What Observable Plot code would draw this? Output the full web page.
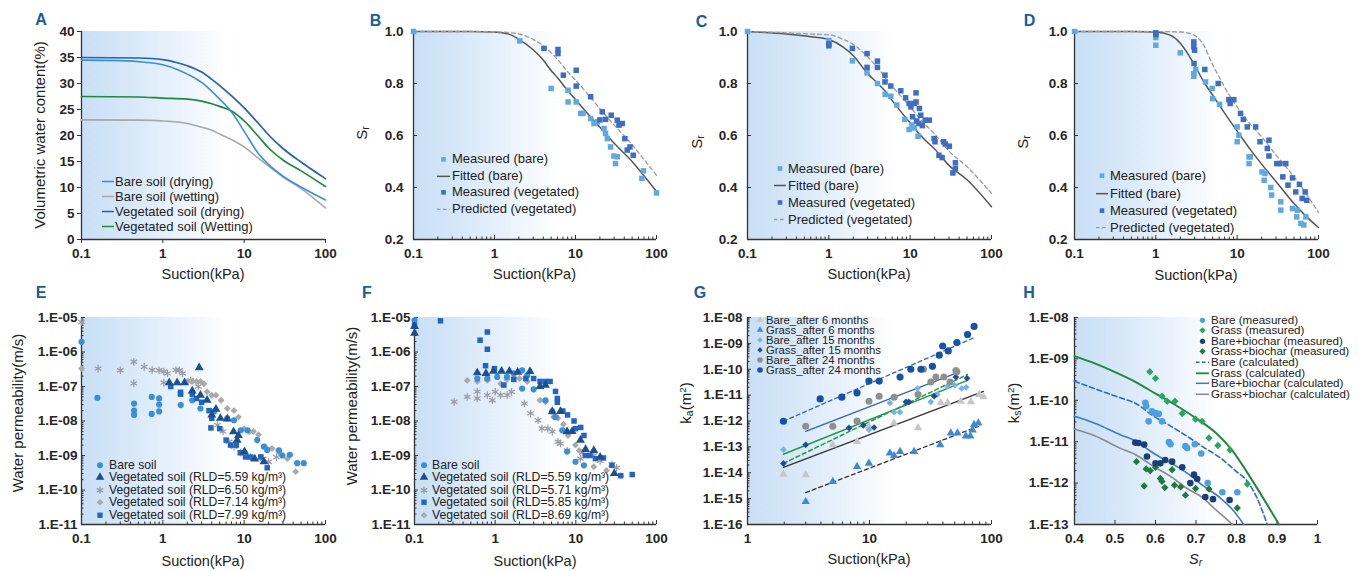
<!DOCTYPE html>
<html><head><meta charset="utf-8">
<script src="https://cdn.jsdelivr.net/npm/d3@7"></script>
<script src="https://cdn.jsdelivr.net/npm/@observablehq/plot@0.6"></script>
<style>
body{margin:0;background:#fff;}
#wrap{position:relative;width:1368px;height:571px;overflow:hidden;font-family:"Liberation Sans",Arial,Helvetica,sans-serif;color:#222;}
.t{position:absolute;white-space:nowrap;line-height:1;transform:translate(-50%,-50%);}
.v{position:absolute;white-space:nowrap;line-height:1;transform:translate(-50%,-50%) rotate(-90deg);}
.lt{position:absolute;white-space:nowrap;line-height:1;transform:translate(-50%,-50%);font-weight:bold;color:#1b5aa5;font-size:16px;}
.lg{position:absolute;white-space:nowrap;color:#222;}
.lg .row{display:flex;align-items:center;overflow:visible;}
.lg .row span{display:inline-block;overflow:visible;}
.lg svg{flex:none;overflow:visible;}
sub{font-size:70%;vertical-align:-0.25em;line-height:0;}
sup{font-size:65%;vertical-align:0.45em;line-height:0;}
</style></head><body><div id="wrap"></div><script>
// ---------------- DATA ----------------
// Tick labels
const suctionTicks = [0.1, 1, 10, 100];
const aYTicks = [0, 5, 10, 15, 20, 25, 30, 35, 40];
const srTicks = [0.2, 0.4, 0.6, 0.8, 1.0];
const permTicks = [1e-11, 1e-10, 1e-9, 1e-8, 1e-7, 1e-6, 1e-5];
const gXTicks = [1, 10, 100];
const kaTicks = [1e-16, 1e-15, 1e-14, 1e-13, 1e-12, 1e-11, 1e-10, 1e-9, 1e-8];
const hXTicks = [0.4, 0.5, 0.6, 0.7, 0.8, 0.9, 1];
const ksTicks = [1e-13, 1e-12, 1e-11, 1e-10, 1e-9, 1e-8];

// Panel A: volumetric water content (%) vs suction (kPa)
const aBareDry = [[0.1,34.5],[0.3,34.4],[0.6,34.1],[1,33.6],[1.5,32.7],[2,31.8],[3,30.2],[4,28.5],[5,27],[7,24.5],[10,20.8],[15,16.5],[20,14.4],[30,12.2],[50,10.1],[100,7.6]];
const aBareWet = [[0.1,23],[0.5,22.95],[1,22.8],[2,22.3],[3,21.6],[4,21],[5,20.3],[7,19.2],[10,17.8],[15,15.6],[20,14.1],[30,12],[50,9.8],[100,6.1]];
const aVegDry = [[0.1,35],[0.5,34.9],[1,34.6],[1.5,34],[2,33.4],[3,32.2],[4,30.8],[5,29.6],[7,27.6],[10,25.3],[15,22.3],[20,20.1],[30,17.5],[50,14.9],[100,11.7]];
const aVegWet = [[0.1,27.5],[0.5,27.4],[1,27.2],[2,27],[3,26.6],[4,26.1],[5,25.6],[7,24.7],[10,22.8],[15,19.8],[20,17.6],[30,15.3],[50,13.2],[100,10.2]];

// Panel B
const bBare = [[0.1,1.0],[2.05,0.964],[5.0,0.781],[8.1,0.774],[8.1,0.729],[10.2,0.729],[11.6,0.685],[12.4,0.685],[15.4,0.665],[16.9,0.646],[18.6,0.653],[22.5,0.627],[23.5,0.608],[24.7,0.588],[27.1,0.556],[29.8,0.521],[31.2,0.492],[32.8,0.518],[66,0.435],[69,0.464],[100,0.379]];
const bVeg = [[4.08,0.935],[6.08,0.931],[6.08,0.915],[7.08,0.832],[10.2,0.851],[10.2,0.79],[15.4,0.749],[20,0.66],[21.4,0.691],[23.5,0.662],[27.6,0.678],[32.8,0.659],[34.4,0.64],[37.8,0.646],[40.7,0.588],[43.5,0.544],[47,0.556],[51.6,0.524]];
const bFit = [[0.1,1],[0.5,1],[1,0.998],[1.5,0.99],[2,0.97],[3,0.93],[4,0.89],[5,0.85],[6,0.822],[8,0.773],[10,0.738],[15,0.675],[20,0.632],[30,0.57],[50,0.5],[70,0.445],[100,0.385]];
const bPred = [[0.1,1],[0.5,1],[1,0.999],[2,0.99],[3,0.97],[4,0.945],[5,0.918],[6,0.893],[8,0.845],[10,0.813],[15,0.75],[20,0.703],[30,0.64],[50,0.565],[70,0.508],[100,0.447]];

// Panel C
const cBare = [[0.1,1.0],[1,0.965],[1.95,0.887],[2.95,0.841],[3.96,0.8],[4.93,0.758],[5.78,0.751],[6.85,0.717],[8.6,0.662],[9.7,0.623],[10.5,0.64],[11.2,0.629],[12.5,0.597]];
const cVeg = [[1,0.952],[1,0.945],[1.95,0.935],[2.95,0.915],[2.95,0.862],[3.96,0.886],[3.96,0.862],[4.9,0.832],[4.9,0.806],[5.78,0.79],[7.67,0.772],[8.8,0.745],[9.7,0.723],[10.2,0.71],[11.2,0.723],[11.8,0.764],[11.8,0.729],[13,0.704],[10.7,0.672],[12,0.656],[12.8,0.646],[13.5,0.678],[14.1,0.638],[15.3,0.659],[17.2,0.659],[19.7,0.588],[20.2,0.576],[22.6,0.524],[24.7,0.515],[25.8,0.576],[27,0.567],[30.3,0.559],[33.5,0.456],[36,0.495],[36,0.473]];
const cFit = [[0.1,1.0],[0.3,0.99],[0.6,0.98],[1,0.969],[1.5,0.94],[2,0.907],[3,0.838],[4,0.8],[5,0.768],[6,0.735],[8,0.685],[10,0.648],[15,0.585],[20,0.548],[30,0.485],[50,0.43],[100,0.326]];
const cPred = [[0.1,1.0],[0.3,0.995],[0.6,0.99],[1,0.987],[1.5,0.97],[2,0.95],[3,0.903],[4,0.86],[5,0.82],[6,0.79],[8,0.745],[10,0.71],[15,0.645],[20,0.606],[30,0.54],[50,0.48],[100,0.377]];

// Panel D
const dBare = [[0.1,1],[1,0.977],[1,0.947],[2,0.918],[2.93,0.838],[2.93,0.828],[3.1,0.854],[4.08,0.806],[4.93,0.781],[5,0.742],[6.08,0.72],[10,0.633],[10.5,0.601],[10,0.576],[14,0.518],[14.5,0.518],[14,0.492],[20.2,0.46],[22,0.454],[21.5,0.428],[25.9,0.4],[26.5,0.371],[34.4,0.345],[34.4,0.313],[47.9,0.319],[55,0.313],[54,0.287],[60.7,0.262],[66,0.256],[70,0.287]];
const dVeg = [[1,0.995],[1,0.988],[2.93,0.96],[2.93,0.941],[3,0.928],[2.95,0.877],[4.0,0.854],[5.85,0.8],[7.9,0.738],[8.2,0.723],[9.1,0.738],[11,0.685],[11.9,0.662],[13.3,0.633],[16.9,0.633],[19.1,0.576],[23.5,0.55],[24.6,0.582],[24.6,0.521],[30.7,0.492],[33.5,0.492],[39.6,0.492],[36.4,0.441],[47.9,0.437],[42.2,0.409],[52.5,0.383],[58.3,0.412],[63,0.358],[68.5,0.383],[71.6,0.351]];
const dFit = [[0.1,1],[0.5,1],[1,0.998],[1.5,0.986],[2,0.955],[2.5,0.912],[3,0.87],[4,0.8],[5,0.755],[6,0.718],[8,0.66],[10,0.617],[15,0.54],[20,0.49],[30,0.423],[50,0.338],[70,0.29],[100,0.246]];
const dPred = [[0.1,1],[1,1],[2,0.998],[3,0.985],[3.5,0.967],[4,0.94],[4.7,0.89],[6,0.825],[8,0.755],[10,0.71],[15,0.638],[20,0.595],[30,0.525],[50,0.441],[70,0.378],[100,0.304]];

// Panel E: water permeability (m/s)
const eBare = [[0.1,1.97e-6],[0.157,4.7e-8],[0.443,3.2e-8],[0.443,2.0e-8],[0.443,1.5e-8],[0.73,5.0e-8],[0.73,1.6e-8],[0.9,4.5e-8],[0.9,3.0e-8],[0.9,1.9e-8],[1.66,2.9e-8],[2.3,4.0e-8],[2.9,2.3e-8],[4.26,1.9e-8],[6.2,1.2e-8],[7.5,1.05e-8],[9.1,5.4e-9],[11,5.4e-9],[14.5,2.8e-9],[17.5,1.8e-9],[19.2,1.45e-9],[26.7,1.4e-9],[29.5,1.0e-9],[36.4,1.05e-9],[44.9,6.0e-10],[54,6.0e-10]];
const eRLD559 = [[1.2,1.3e-7],[1.5,1.3e-7],[1.85,1.3e-7],[2.8,3.5e-7],[2.3,7.5e-8],[2.9,5.6e-8],[3.5,4.0e-8],[4.0,1.5e-8],[4.5,2.2e-8],[5.1,1.2e-8],[6.2,1.15e-8],[7.4,4.9e-9],[8.2,2.8e-9],[8.5,3.8e-9],[10.1,1.3e-9],[13.5,8e-10],[17.5,6.6e-10]];
const eRLD650 = [[0.1,7.4e-6],[0.16,3.3e-7],[0.3,2.95e-7],[0.44,5.2e-7],[0.44,1.23e-7],[0.59,3.7e-7],[0.74,3.0e-7],[0.9,2.95e-7],[1.03,2.7e-7],[1.14,2.4e-7],[1.03,1.3e-7],[1.45,3.0e-7],[1.6,2.95e-7],[1.75,2.4e-7],[2.2,1.5e-7],[2.73,1.0e-7],[4.7,7.6e-9],[5.5,5.0e-9],[6.5,2.5e-9],[7.5,1.8e-9],[9.0,1.2e-9],[12,9.0e-10],[17,8.0e-10],[20,6.5e-10],[25,9.0e-10]];
const eRLD714 = [[0.1,3.3e-7],[2.0,1.4e-7],[2.3,1.4e-7],[2.6,1.4e-7],[2.9,1.4e-7],[3.2,1.2e-7],[3.5,7.0e-8],[4.0,5.6e-8],[4.5,5.6e-8],[5.2,4.0e-8],[6.2,2.3e-8],[7.5,2.0e-8],[8.5,1.3e-8],[10,6.0e-9],[11.5,4.9e-9],[13,5.0e-9],[15,4.0e-9],[18,1.8e-9],[22,1.6e-9],[28,1.1e-9],[34,8.1e-10],[43,3.4e-10]];
const eRLD799 = [[1.25,1.0e-7],[1.65,6.8e-8],[1.65,6.0e-8],[2.3,6.0e-8],[2.6,4.5e-8],[3.0,3.5e-8],[3.7,2.0e-8],[4.0,1.2e-8],[3.9,6.3e-9],[5.0,6.0e-9],[6.0,2.8e-9],[6.8,2.0e-9],[8.0,2.0e-9],[9.0,1.2e-9],[10.4,9.1e-10],[12,9.0e-10],[16,9.1e-10],[19.2,4.4e-10]];

// Panel F
const fBare = [[0.1,8.3e-6],[0.6,1.7e-7],[0.8,1.7e-7],[1.06,1.9e-7],[1.4,1.9e-7],[1.7,2.4e-7],[2.16,2.95e-7],[2.5,2.1e-7],[2.16,8.7e-8],[3.0,8.3e-8],[4.2,4.0e-8],[5.1,1.9e-8],[5.6,1.3e-8],[6.8,5.4e-9],[7.8,1.3e-9],[9.9,6.6e-10],[12.6,5.2e-10]];
const fRLD559 = [[0.1,3.5e-6],[0.1,5.5e-6],[0.6,2.5e-7],[0.77,2.4e-7],[0.95,2.8e-7],[1.2,2.8e-7],[1.5,2.8e-7],[1.9,2.6e-7],[2.7,2.75e-7],[3.6,1.0e-7],[4.2,1.1e-7],[5.1,1.9e-8],[6.45,1.9e-8],[7.8,4.9e-9],[9,5.0e-9],[11.4,2.8e-9],[13.2,1.5e-9],[16.7,1.4e-9],[20,9.0e-10],[30,3.0e-10]];
const fRLD571 = [[0.31,3.6e-8],[0.45,5.0e-8],[0.6,7.1e-8],[0.6,4.5e-8],[0.8,5.6e-8],[0.92,4.0e-8],[1.0,7.0e-8],[1.17,5.6e-8],[1.41,5.6e-8],[1.6,7.0e-8],[2.3,3.2e-8],[2.75,1.66e-8],[3.4,1.05e-8],[3.8,6.0e-9],[4.5,6.0e-9],[5.1,4.9e-9],[6.0,2.5e-9],[6.45,2.2e-9],[7.8,1.4e-9],[11.4,8.1e-10],[12,1.2e-9],[16.7,1.0e-9],[20,7.0e-10],[28,5.5e-10],[32,4.4e-10]];
const fRLD585 = [[0.1,6.0e-6],[0.21,8.0e-6],[0.65,2.2e-6],[0.8,3.8e-6],[0.8,1.2e-6],[0.76,4.0e-7],[0.98,3.3e-7],[1.28,1.1e-7],[1.7,1.6e-7],[2.4,1.7e-7],[3.0,1.7e-7],[3.6,1.4e-7],[4.2,1.4e-7],[4.8,1.4e-7],[5.6,7.2e-8],[5.9,4.5e-8],[5.9,3.5e-8],[6.9,1.95e-8],[7.9,1.5e-8],[9.5,1.0e-8],[9.9,6.0e-9],[11.5,6.5e-9],[12.6,3.8e-9],[13.2,1.0e-9],[15,1.0e-9],[17.5,8.1e-10],[22,8.5e-10],[28,5.2e-10],[36,2.6e-10],[50,2.8e-10]];
const fRLD869 = [[0.45,1.5e-7],[0.6,1.4e-7],[0.8,1.5e-7],[1.17,1.2e-7],[1.4,1.6e-7],[1.7,1.8e-7],[2.0,1.7e-7],[2.5,1.4e-7],[3.6,4.0e-8],[4.2,3.6e-8],[5.3,1.3e-8],[6.0,1.2e-8],[7,8.0e-9],[8,3.8e-9],[9.9,2.0e-9],[11,1.4e-9],[16.7,4.7e-10],[24,3.7e-10],[36,2.6e-10]];

// Panel G: air permeability ka (m2)
const gBare6 = [[1.97,8.7e-15],[3.0,8.3e-15],[5.0,1.2e-13],[7.9,1.6e-13],[9.9,6.2e-13],[15.9,8.3e-13],[25,5.4e-13],[38.4,5.0e-12],[43.6,5.0e-12],[56,5.8e-12],[67.7,5.5e-12],[79.4,1.05e-11],[86,8.5e-12]];
const gGrass6 = [[3.0,7.6e-16],[5.0,4.6e-15],[7.9,1.74e-14],[9.9,2.3e-14],[14.7,5.8e-14],[15.9,4.6e-14],[17.8,6.6e-14],[23.2,6.6e-14],[38,1.2e-13],[46.4,3.4e-13],[52.6,3.4e-13],[61.6,2.6e-13],[67,2.6e-13],[70,4.5e-13],[72,7.2e-13],[78,8.3e-13]];
const gBare15 = [[1.97,7.8e-14],[9.9,4.6e-13],[14.7,5.0e-12],[15.9,2.2e-12],[17.8,2.2e-12],[24.7,1.8e-11],[31.8,5.5e-12],[36,1.05e-11],[43.6,2.2e-11],[50,2.4e-11],[57,1.8e-11],[62,2.0e-11]];
const gGrass15 = [[1.97,2.3e-14],[3.0,1.2e-13],[6.8,5.4e-13],[8.9,6.8e-13],[10.9,5.6e-13],[19.9,5.5e-12],[21,5.5e-12],[33.9,9.1e-12],[51,5.0e-11],[63,4.5e-11]];
const gBare24 = [[3.0,6.2e-13],[5.0,6.2e-13],[7.9,1.0e-12],[9.9,5.8e-12],[12,9.1e-12],[15.9,8.3e-12],[25,1.05e-11],[27.7,1.0e-10],[31.8,3.2e-11],[35,5.0e-11],[40.7,5.0e-11],[45.7,3.2e-11],[51,8.9e-11],[52,8.0e-11]];
const gGrass24 = [[1.97,9.8e-13],[3.94,7.1e-12],[5.93,8.3e-12],[7.9,1.23e-11],[9.9,3.5e-11],[12,3.5e-11],[17.8,5.0e-11],[21.8,1.0e-10],[26.4,1.0e-10],[32.8,1.3e-10],[37.3,3.5e-10],[39.8,7.9e-10],[44.2,5.1e-10],[52,1.07e-9],[63.6,2.2e-9],[72,4.5e-9]];
const gFitGrass24 = [[1.97,9.8e-13],[72,1.66e-9]];
const gFitBare24 = [[3.0,4.0e-13],[52,7.2e-11]];
const gFitBare15 = [[1.97,5.2e-14],[63.6,3.7e-11]];
const gFitGrass15 = [[1.97,2.3e-14],[63.6,6.3e-11]];
const gFitBare6 = [[1.97,1.6e-14],[86,1.4e-11]];
const gFitGrass6 = [[3.0,1.7e-15],[78,6.2e-13]];

// Panel H: ks (m2) vs Sr
const hBare = [[0.575,8.7e-11],[0.577,7.2e-11],[0.591,5.4e-11],[0.6,4.9e-11],[0.608,4.7e-11],[0.583,3.1e-11],[0.616,3.1e-11],[0.633,9.8e-12],[0.637,8.7e-12],[0.674,7.8e-12],[0.678,7.0e-12],[0.697,8.7e-12],[0.713,5.2e-12],[0.729,1.0e-12],[0.765,6.0e-13],[0.802,6.0e-13]];
const hGrass = [[0.586,4.9e-10],[0.6,3.4e-10],[0.616,1.26e-10],[0.629,9.5e-11],[0.648,9.5e-11],[0.666,4.8e-11],[0.699,3.5e-11],[0.715,3.1e-11],[0.732,1.23e-11],[0.754,8.1e-12],[0.784,6.3e-12],[0.827,9.5e-13]];
const hBareBio = [[0.55,9.5e-12],[0.558,9.3e-12],[0.572,8.5e-12],[0.579,4.4e-12],[0.6,3.0e-12],[0.612,3.0e-12],[0.624,3.6e-12],[0.641,3.3e-12],[0.666,2.4e-12],[0.695,1.6e-12],[0.703,1.26e-12],[0.686,1.0e-12],[0.723,4.6e-13],[0.742,4.1e-13],[0.783,3.9e-13]];
const hGrassBio = [[0.553,3.3e-12],[0.577,2.2e-12],[0.587,2.0e-12],[0.6,2.4e-12],[0.572,8.5e-13],[0.612,1.29e-12],[0.616,1.1e-12],[0.623,7.8e-13],[0.641,2.1e-12],[0.647,8.9e-13],[0.662,8.1e-13],[0.674,5.1e-13],[0.699,7.4e-13],[0.732,7.2e-13],[0.802,2.5e-13]];
const hBareCalc = [[0.4,2.9e-10],[0.45,1.9e-10],[0.513,1.15e-10],[0.55,8.5e-11],[0.596,4.1e-11],[0.64,2.3e-11],[0.678,1.35e-11],[0.72,7.2e-12],[0.761,4.0e-12],[0.8,1.9e-12],[0.827,1.1e-12],[0.85,4.5e-13],[0.876,1.0e-13]];
const hGrassCalc = [[0.4,1.17e-9],[0.45,7.8e-10],[0.5,4.8e-10],[0.55,2.8e-10],[0.6,1.45e-10],[0.65,7.6e-11],[0.7,3.7e-11],[0.75,1.6e-11],[0.785,7.0e-12],[0.843,1.0e-12],[0.905,1.0e-13]];
const hBareBioCalc = [[0.4,4.1e-11],[0.45,2.8e-11],[0.513,1.48e-11],[0.55,1.05e-11],[0.596,5.2e-12],[0.64,3.0e-12],[0.678,1.74e-12],[0.72,8.3e-13],[0.761,4.3e-13],[0.79,2.3e-13],[0.818,1.0e-13]];
const hGrassBioCalc = [[0.4,2.0e-11],[0.45,1.4e-11],[0.513,6.9e-12],[0.55,4.9e-12],[0.596,2.5e-12],[0.64,1.4e-12],[0.678,7.4e-13],[0.72,4.2e-13],[0.744,2.5e-13],[0.77,1.5e-13],[0.79,1.0e-13]];

// ---------------- STYLE ----------------
const FONT = '"Liberation Sans", Arial, Helvetica, sans-serif';
const C = {
  bareSq: "#5ea9e4", vegSq: "#3d6dc4",
  aBareDry: "#3a8fd9", aBareWet: "#a8a8a8", aVegDry: "#2462b2", aVegWet: "#1f8a3c",
  fit: "#555555", pred: "#9c9c9c",
  eBare: "#3b8fd8", eTri: "#1c4f90", eAst: "#9a9aa4", eDia: "#a9a9a9", eSq: "#1f65c1",
  gB6: "#c6c6c6", gG6: "#3d89d7", gB15: "#72b4ea", gG15: "#1b4f98", gB24: "#8f8f8f", gG24: "#1852a6",
  gLblue: "#2f64c4", gLgreen: "#1f9a45", gLblack: "#333333",
  hBare: "#4c9fe2", hGrass: "#2aa65c", hBB: "#1a3d7c", hGB: "#1e7b3a",
  hBareC: "#2b6bc8", hGrassC: "#1e8a3c", hBBC: "#3a7ad2", hGBC: "#8a8a8a"
};
const wrap = document.getElementById("wrap");
const NS = "http://www.w3.org/2000/svg";
const X = d => d[0], Y = d => d[1];
const fmtE = d => "1.E-" + String(Math.round(-Math.log10(d))).padStart(2, "0");
function minorLog(lo, hi) {
  const out = [];
  for (let e = Math.round(Math.log10(lo)); e < Math.round(Math.log10(hi)); e++)
    for (let k = 2; k <= 9; k++) out.push(k * Number("1e" + e));
  return out;
}
function el(tag, attrs) { const e = document.createElementNS(NS, tag); for (const k in attrs) e.setAttribute(k, attrs[k]); return e; }

function makePanel(p) {
  const x0 = p.x.domain[0], y0 = p.y.domain[0];
  const tc = "#333";
  const xin = p.xIn !== false, yin = p.yIn !== false;
  const marks = [
    Plot.ruleX([x0], {stroke: tc, strokeWidth: 1.3}),
    Plot.ruleY([y0], {stroke: tc, strokeWidth: 1.3}),
    Plot.ruleX(p.xTicks, {x: d => d, y1: y0, y2: y0, insetBottom: xin ? 4 : -4, stroke: tc}),
    Plot.ruleY(p.yTicks, {y: d => d, x1: x0, x2: x0, insetRight: yin ? -4 : 4, stroke: tc})
  ];
  if (p.xMinor) marks.push(Plot.ruleX(p.xMinor, {x: d => d, y1: y0, y2: y0, insetBottom: 2.5, stroke: tc}));
  if (p.yMinor) marks.push(Plot.ruleY(p.yMinor, {y: d => d, x1: x0, x2: x0, insetRight: -2.5, stroke: tc}));
  marks.push(
    Plot.axisX({ticks: p.xTicks, tickFormat: p.xFmt, tickSize: 0, tickPadding: p.xPad, label: null, fontSize: p.tf, fontWeight: "bold"}),
    Plot.axisY({ticks: p.yTicks, tickFormat: p.yFmt, tickSize: 0, tickPadding: p.yPad, label: null, fontSize: p.tf, fontWeight: "bold"}),
    ...p.marks
  );
  const svg = Plot.plot({
    width: p.w, height: p.h,
    marginLeft: p.ml, marginRight: p.mr, marginTop: p.mt, marginBottom: p.mb,
    x: p.x, y: p.y,
    style: {fontFamily: FONT, fontSize: "13px", color: "#222", background: "transparent", overflow: "visible"},
    marks
  });
  // enforce tick label font on every text element
  svg.querySelectorAll("text").forEach(t => {
    t.style.fontSize = p.tf + "px";
    t.style.fontFamily = FONT;
    t.style.fontWeight = "bold";
    t.style.fill = "#262626";
  });
  const gid = "grad" + p.key;
  const defs = el("defs", {});
  const lg = el("linearGradient", {id: gid, x1: 0, y1: 0, x2: 1, y2: 0});
  [[0, "#c8dff5"], [0.18, "#d6e7f8"], [0.4, "#eaf3fc"], [0.6, "#ffffff"]].forEach(([o, c]) => lg.appendChild(el("stop", {offset: o, "stop-color": c})));
  defs.appendChild(lg);
  const rect = el("rect", {x: p.ml, y: p.mt, width: p.w - p.ml - p.mr, height: p.h - p.mt - p.mb, fill: `url(#${gid})`});
  const st = svg.querySelector("style");
  const first = st ? st.nextSibling : svg.firstChild;
  svg.insertBefore(defs, first);
  svg.insertBefore(rect, first);
  svg.style.position = "absolute";
  svg.style.left = p.left + "px";
  svg.style.top = p.top + "px";
  svg.style.maxWidth = "none";
  wrap.appendChild(svg);
}

const symMap = {circle: d3.symbolCircle, square: d3.symbolSquare, triangle: d3.symbolTriangle, diamond2: d3.symbolDiamond2, asterisk: d3.symbolAsterisk};
function swatch(it, w, h) {
  const s = el("svg", {width: w, height: h});
  if (it.line) s.appendChild(el("line", {x1: 0, x2: w, y1: h / 2, y2: h / 2, stroke: it.line, "stroke-width": it.sw || 1.5, "stroke-dasharray": it.dash || "none"}));
  if (it.sym) {
    const d = d3.symbol(symMap[it.sym], Math.PI * it.r * it.r)();
    const a = {d, transform: `translate(${w / 2},${h / 2})`};
    if (it.sym === "asterisk") { a.fill = "none"; a.stroke = it.color; a["stroke-width"] = 1.2; }
    else a.fill = it.color;
    s.appendChild(el("path", a));
  }
  return s;
}
function legend(x, y, rowH, fs, swW, gap, items) {
  const d = document.createElement("div");
  d.className = "lg";
  d.style.left = x + "px"; d.style.top = y + "px"; d.style.fontSize = fs + "px";
  for (const it of items) {
    const r = document.createElement("div");
    r.className = "row"; r.style.height = rowH + "px";
    const sw = swatch(it, swW, rowH); sw.style.marginRight = gap + "px";
    const sp = document.createElement("span"); sp.innerHTML = it.label;
    sp.style.lineHeight = rowH + "px"; sp.style.height = rowH + "px";
    r.append(sw, sp); d.appendChild(r);
  }
  wrap.appendChild(d);
}
function text(cls, html, cx, cy, fs) {
  const d = document.createElement("div");
  d.className = cls; d.innerHTML = html;
  d.style.left = cx + "px"; d.style.top = cy + "px";
  if (fs) d.style.fontSize = fs + "px";
  wrap.appendChild(d);
}

const suctionMinor = minorLog(0.1, 100);
const rowTop = {top: 0, h: 285, mt: 31, mb: 46};
const rowBot = {top: 285, h: 286, mt: 32, mb: 47};
const sq = (data, color) => Plot.dot(data, {x: X, y: Y, symbol: "square", r: 3.1, fill: color});
const ln = (data, color, sw, dash, curve) => Plot.line(data, {x: X, y: Y, stroke: color, strokeWidth: sw, strokeDasharray: dash, curve: curve || "monotone-x"});

// ---------- A ----------
makePanel({key: "A", ...rowTop, left: 0, w: 340, ml: 81, mr: 15,
  x: {type: "log", domain: [0.1, 100]}, y: {domain: [0, 40]},
  xTicks: suctionTicks, xFmt: d => String(d), yTicks: aYTicks, yFmt: d => String(d),
  xIn: false, yIn: false, xPad: 9, yPad: 7, tf: 13.5,
  marks: [ln(aBareWet, C.aBareWet, 1.6), ln(aVegWet, C.aVegWet, 1.7), ln(aBareDry, C.aBareDry, 1.6), ln(aVegDry, C.aVegDry, 1.7)]
});
// ---------- B, C, D ----------
const srPanel = (key, left, w, ml, mr, bare, veg, fit, pred, yPad) => makePanel({key, ...rowTop, left, w, ml, mr,
  x: {type: "log", domain: [0.1, 100]}, y: {domain: [0.2, 1.0]},
  xTicks: suctionTicks, xFmt: d => String(d), yTicks: srTicks, yFmt: d => d.toFixed(1), xMinor: suctionMinor,
  xPad: 9, yPad, tf: 13.5,
  marks: [ln(fit, C.fit, 1.5), ln(pred, C.pred, 1.3, "4,3"), sq(bare, C.bareSq), sq(veg, C.vegSq)]
});
srPanel("B", 340, 340, 73, 24, bBare, bVeg, bFit, bPred, 10);
srPanel("C", 680, 340, 67, 29, cBare, cVeg, cFit, cPred, 10);
srPanel("D", 1020, 348, 54, 50, dBare, dVeg, dFit, dPred, 7);

// ---------- E, F ----------
const permMinor = minorLog(1e-11, 1e-5);
const permPanel = (key, left, ml, mr, s) => makePanel({key, ...rowBot, left, w: 340, ml, mr,
  x: {type: "log", domain: [0.1, 100]}, y: {type: "log", domain: [1e-11, 1e-5]},
  xTicks: suctionTicks, xFmt: d => String(d), yTicks: permTicks, yFmt: fmtE, xMinor: suctionMinor, yMinor: permMinor,
  xPad: 9, yPad: 4, tf: 13.5,
  marks: s
});
permPanel("E", 0, 81, 15, [
  Plot.dot(eRLD650, {x: X, y: Y, symbol: "asterisk", r: 3.6, stroke: C.eAst, strokeWidth: 1.2}),
  Plot.dot(eRLD714, {x: X, y: Y, symbol: "diamond2", r: 3.1, fill: C.eDia}),
  Plot.dot(eBare, {x: X, y: Y, symbol: "circle", r: 3.1, fill: C.eBare}),
  Plot.dot(eRLD799, {x: X, y: Y, symbol: "square", r: 3.1, fill: C.eSq}),
  Plot.dot(eRLD559, {x: X, y: Y, symbol: "triangle", r: 3.3, fill: C.eTri})
]);
permPanel("F", 340, 74, 24, [
  Plot.dot(fRLD571, {x: X, y: Y, symbol: "asterisk", r: 3.6, stroke: C.eAst, strokeWidth: 1.2}),
  Plot.dot(fRLD869, {x: X, y: Y, symbol: "diamond2", r: 3.1, fill: C.eDia}),
  Plot.dot(fBare, {x: X, y: Y, symbol: "circle", r: 3.1, fill: C.eBare}),
  Plot.dot(fRLD585, {x: X, y: Y, symbol: "square", r: 3.1, fill: C.eSq}),
  Plot.dot(fRLD559, {x: X, y: Y, symbol: "triangle", r: 3.3, fill: C.eTri})
]);

// ---------- G ----------
makePanel({key: "G", ...rowBot, left: 680, w: 340, ml: 67, mr: 29,
  x: {type: "log", domain: [1, 100]}, y: {type: "log", domain: [1e-16, 1e-8]},
  xTicks: gXTicks, xFmt: d => String(d), yTicks: kaTicks, yFmt: fmtE, xMinor: minorLog(1, 100), yMinor: minorLog(1e-16, 1e-8),
  xPad: 9, yPad: 5, tf: 13.5,
  marks: [
    ln(gFitGrass24, C.gLblue, 1.3, "4,3", "linear"), ln(gFitBare24, C.gLblue, 1.3, null, "linear"),
    ln(gFitBare15, C.gLgreen, 1.5, null, "linear"), ln(gFitGrass15, C.gLgreen, 1.5, "4,3", "linear"),
    ln(gFitBare6, C.gLblack, 1.3, null, "linear"), ln(gFitGrass6, C.gLblack, 1.3, "4,3", "linear"),
    Plot.dot(gBare6, {x: X, y: Y, symbol: "triangle", r: 3.1, fill: C.gB6}),
    Plot.dot(gGrass6, {x: X, y: Y, symbol: "triangle", r: 3.1, fill: C.gG6}),
    Plot.dot(gBare15, {x: X, y: Y, symbol: "diamond2", r: 3, fill: C.gB15}),
    Plot.dot(gGrass15, {x: X, y: Y, symbol: "diamond2", r: 3, fill: C.gG15}),
    Plot.dot(gBare24, {x: X, y: Y, symbol: "circle", r: 3.5, fill: C.gB24}),
    Plot.dot(gGrass24, {x: X, y: Y, symbol: "circle", r: 3.6, fill: C.gG24})
  ]
});

// ---------- H ----------
makePanel({key: "H", ...rowBot, left: 1000, w: 368, ml: 74, mr: 51,
  x: {domain: [0.4, 1]}, y: {type: "log", domain: [1e-13, 1e-8]},
  xTicks: hXTicks, xFmt: d => String(d), yTicks: ksTicks, yFmt: fmtE, yMinor: minorLog(1e-13, 1e-8),
  xPad: 9, yPad: 6, tf: 13.5,
  marks: [
    ln(hGrassBioCalc, C.hGBC, 1.6), ln(hBareBioCalc, C.hBBC, 1.6), ln(hBareCalc, C.hBareC, 1.6, "5,3"), ln(hGrassCalc, C.hGrassC, 2),
    Plot.dot(hGrassBio, {x: X, y: Y, symbol: "diamond2", r: 3.3, fill: C.hGB}),
    Plot.dot(hBareBio, {x: X, y: Y, symbol: "circle", r: 3.3, fill: C.hBB}),
    Plot.dot(hBare, {x: X, y: Y, symbol: "circle", r: 3.3, fill: C.hBare}),
    Plot.dot(hGrass, {x: X, y: Y, symbol: "diamond2", r: 3.3, fill: C.hGrass})
  ]
});

// ---------- Legends ----------
legend(102, 173.5, 15, 13, 12, 1, [
  {line: C.aBareDry, label: "Bare soil (drying)"},
  {line: C.aBareWet, label: "Bare soil (wetting)"},
  {line: C.aVegDry, label: "Vegetated soil (drying)"},
  {line: C.aVegWet, label: "Vegetated soil (Wetting)"}
]);
const srItems = [
  {sym: "square", r: 2.6, color: C.bareSq, label: "Measured (bare)"},
  {line: C.fit, sw: 1.5, label: "Fitted (bare)"},
  {sym: "square", r: 2.6, color: C.vegSq, label: "Measured (vegetated)"},
  {line: C.pred, sw: 1.3, dash: "3.5,2.5", label: "Predicted (vegetated)"}
];
legend(437, 151, 16.7, 13, 13, 2, srItems);
legend(774, 159.5, 17, 13, 12, 2, srItems);
legend(1096, 167.4, 17.3, 13, 12, 2, srItems);
legend(93, 458.8, 12.5, 12.2, 14, 2, [
  {sym: "circle", r: 3, color: C.eBare, label: "Bare soil"},
  {sym: "triangle", r: 3.2, color: C.eTri, label: "Vegetated soil (RLD=5.59 kg/m³)"},
  {sym: "asterisk", r: 3.5, color: C.eAst, label: "Vegetated soil (RLD=6.50 kg/m³)"},
  {sym: "diamond2", r: 3, color: C.eDia, label: "Vegetated soil (RLD=7.14 kg/m³)"},
  {sym: "square", r: 3, color: C.eSq, label: "Vegetated soil (RLD=7.99 kg/m³)"}
]);
legend(417, 458.8, 12.5, 12.2, 14, 1, [
  {sym: "circle", r: 3, color: C.eBare, label: "Bare soil"},
  {sym: "triangle", r: 3.2, color: C.eTri, label: "Vegetated soil (RLD=5.59 kg/m³)"},
  {sym: "asterisk", r: 3.5, color: C.eAst, label: "Vegetated soil (RLD=5.71 kg/m³)"},
  {sym: "square", r: 3, color: C.eSq, label: "Vegetated soil (RLD=5.85 kg/m³)"},
  {sym: "diamond2", r: 3, color: C.eDia, label: "Vegetated soil (RLD=8.69 kg/m³)"}
]);
legend(755, 315, 10, 11.3, 10, 1, [
  {sym: "triangle", r: 2.4, color: C.gB6, label: "Bare_after 6 months"},
  {sym: "triangle", r: 2.4, color: C.gG6, label: "Grass_after 6 months"},
  {sym: "diamond2", r: 2.4, color: C.gB15, label: "Bare_after 15 months"},
  {sym: "diamond2", r: 2.4, color: C.gG15, label: "Grass_after 15 months"},
  {sym: "circle", r: 2.8, color: C.gB24, label: "Bare_after 24 months"},
  {sym: "circle", r: 2.8, color: C.gG24, label: "Grass_after 24 months"}
]);
legend(1196, 314.7, 10.6, 11.6, 13, 2, [
  {sym: "circle", r: 2.6, color: C.hBare, label: "Bare (measured)"},
  {sym: "diamond2", r: 2.8, color: C.hGrass, label: "Grass (measured)"},
  {sym: "circle", r: 2.6, color: C.hBB, label: "Bare+biochar (measured)"},
  {sym: "diamond2", r: 2.8, color: C.hGB, label: "Grass+biochar (measured)"},
  {line: C.hBareC, dash: "3.5,2.5", label: "Bare (calculated)"},
  {line: C.hGrassC, sw: 1.8, label: "Grass (calculated)"},
  {line: C.hBBC, label: "Bare+biochar (calculated)"},
  {line: C.hGBC, label: "Grass+biochar (calculated)"}
]);

// ---------- Axis titles ----------
const xt = 14.5, yt = 15;
text("t", "Suction(kPa)", 203, 274, xt);
text("t", "Suction(kPa)", 534.5, 274, xt);
text("t", "Suction(kPa)", 869, 274, xt);
text("t", "Suction(kPa)", 1196, 275, xt);
text("t", "Suction(kPa)", 203, 561, xt);
text("t", "Suction(kPa)", 535, 561, xt);
text("t", "Suction(kPa)", 869, 559, xt);
text("t", "<i>S<sub>r</sub></i>", 1195.5, 559, xt);
text("v", "Volumetric water content(%)", 39, 135, yt);
text("v", "S<sub>r</sub>", 361, 133, yt);
text("v", "S<sub>r</sub>", 696, 142, yt);
text("v", "S<sub>r</sub>", 1022, 142, yt);
text("v", "Water permeability(m/s)", 17, 413, yt);
text("v", "Water permeability(m/s)", 351, 406, yt);
text("v", "k<sub>a</sub>(m<sup>2</sup>)", 685, 403, yt);
text("v", "k<sub>s</sub>(m<sup>2</sup>)", 1013, 403, yt);
// Panel letters
[["A", 41, 20], ["B", 375.5, 20.5], ["C", 701.5, 21.5], ["D", 1029.5, 20.5],
 ["E", 41, 292.5], ["F", 367, 292.5], ["G", 700, 293], ["H", 1029, 293]].forEach(([l, x, y]) => text("lt", l, x, y));
</script></body></html>
